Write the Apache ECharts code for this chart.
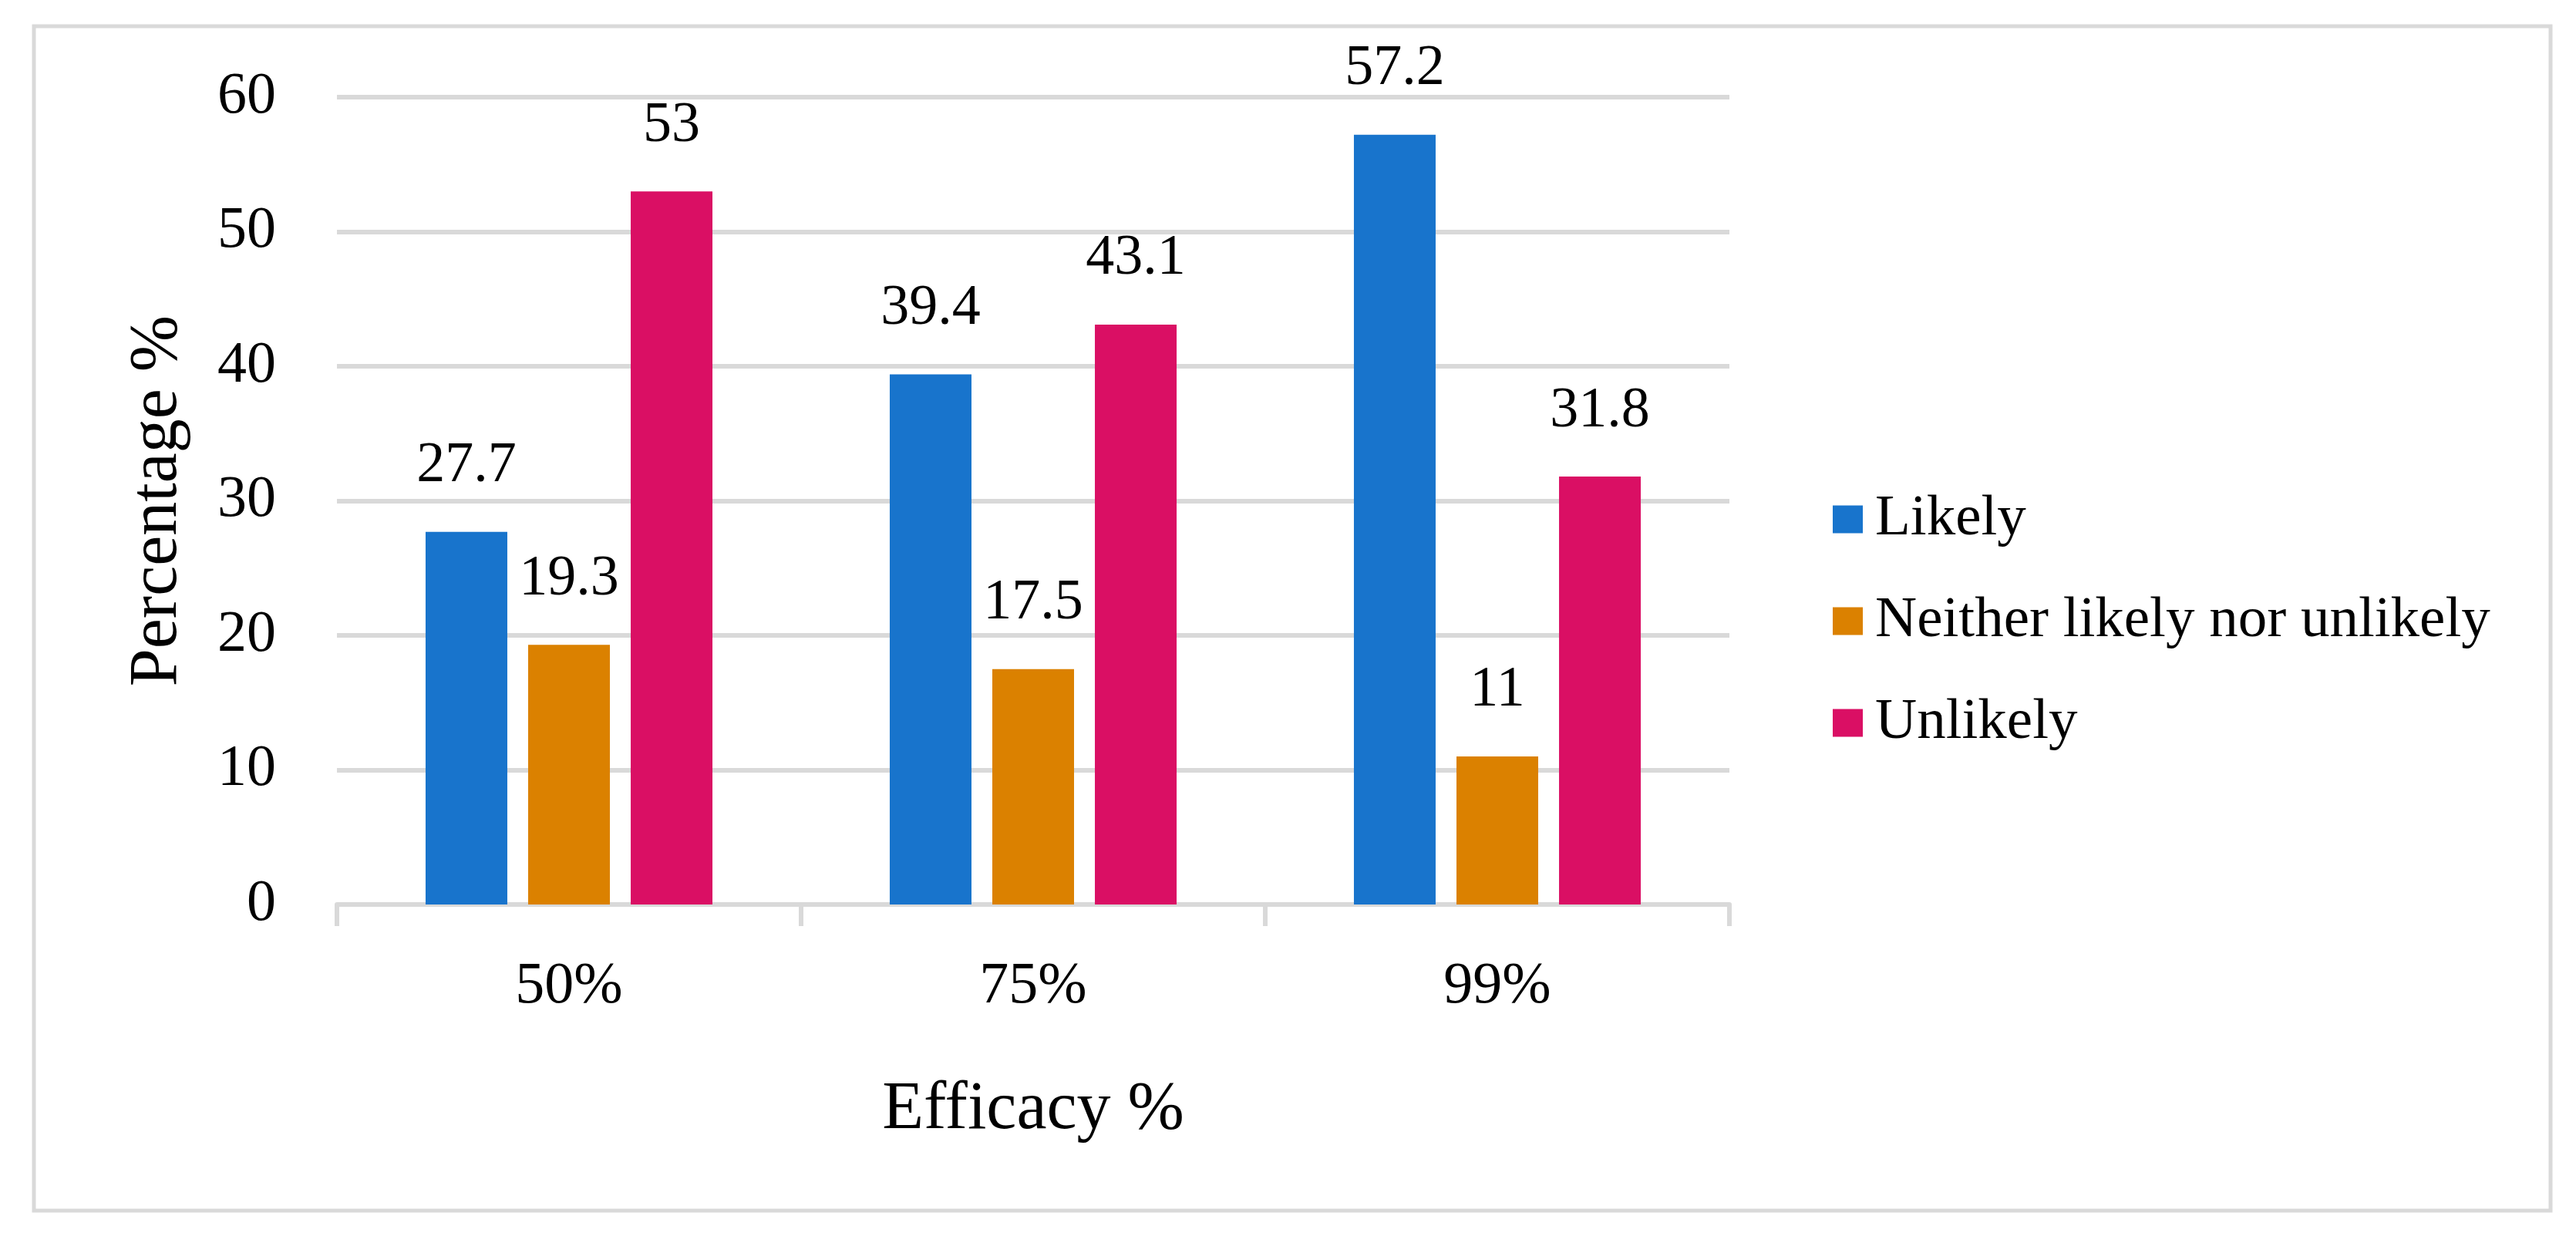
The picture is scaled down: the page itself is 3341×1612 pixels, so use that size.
<!DOCTYPE html>
<html>
<head>
<meta charset="utf-8">
<script src="https://cdn.jsdelivr.net/npm/echarts@6/dist/echarts.min.js"></script>
<style>
html,body{margin:0;padding:0;background:#fff;}
#chart{width:3341px;height:1612px;}
</style>
</head>
<body>
<div id="chart"></div>
<script>
const categories = ['50%', '75%', '99%'];
const seriesNames = ['Likely', 'Neither likely nor unlikely', 'Unlikely'];
const likely = [27.7, 39.4, 57.2];
const neither = [19.3, 17.5, 11];
const unlikely = [53, 43.1, 31.8];
const colors = ['#1874CC', '#DB8100', '#DA0F64'];

const FONT = 'Liberation Serif';
const chart = echarts.init(document.getElementById('chart'));

function mkSeries(name, data, color) {
  return {
    name: name,
    type: 'bar',
    data: data,
    barWidth: 106,
    barGap: '25.5%',
    itemStyle: { color: color },
    label: {
      show: true,
      position: 'top',
      distance: 48,
      color: '#000',
      fontFamily: FONT,
      fontSize: 74
    }
  };
}

chart.setOption({
  backgroundColor: '#fff',
  animation: false,
  graphic: [{
    type: 'rect',
    shape: { x: 44, y: 34, width: 3264, height: 1536 },
    style: { fill: 'none', stroke: '#d9d9d9', lineWidth: 5 }
  }],
  grid: { left: 437, right: 1098, top: 126, bottom: 439 },
  legend: {
    orient: 'vertical',
    left: 2372,
    top: 631,
    itemWidth: 39,
    itemHeight: 36,
    itemGap: 57,
    icon: 'rect',
    data: seriesNames,
    textStyle: { fontFamily: FONT, fontSize: 75, color: '#000', padding: [0, 0, 0, 11] }
  },
  xAxis: {
    type: 'category',
    data: categories,
    name: 'Efficacy %',
    nameLocation: 'middle',
    nameGap: 223,
    nameTextStyle: { fontFamily: FONT, fontSize: 88, color: '#000' },
    axisLine: { lineStyle: { color: '#d9d9d9', width: 6 } },
    axisTick: { show: true, length: 28, lineStyle: { color: '#d9d9d9', width: 6 } },
    axisLabel: { margin: 69, fontFamily: FONT, fontSize: 76, color: '#000' }
  },
  yAxis: {
    type: 'value',
    min: 0,
    max: 60,
    interval: 10,
    name: 'Percentage %',
    nameLocation: 'middle',
    nameGap: 188,
    nameTextStyle: { fontFamily: FONT, fontSize: 88, color: '#000' },
    axisLine: { show: false },
    axisTick: { show: false },
    splitLine: { lineStyle: { color: '#d9d9d9', width: 6 } },
    axisLabel: { margin: 79, fontFamily: FONT, fontSize: 76, color: '#000' }
  },
  series: [
    mkSeries(seriesNames[0], likely, colors[0]),
    mkSeries(seriesNames[1], neither, colors[1]),
    mkSeries(seriesNames[2], unlikely, colors[2])
  ]
});
</script>
</body>
</html>
